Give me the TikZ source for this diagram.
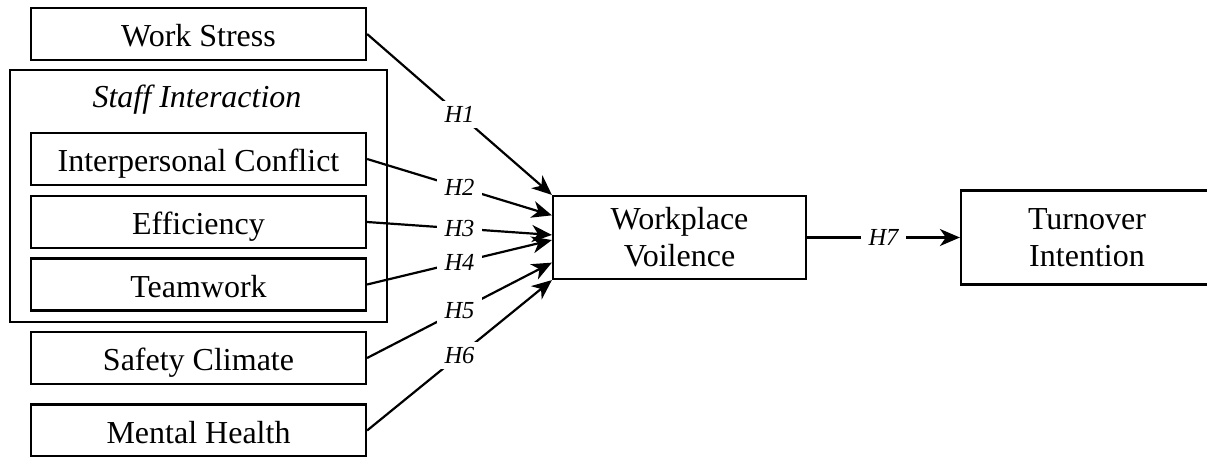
\documentclass[tikz,border=0pt]{standalone}
\usepackage{fontspec}
\setmainfont{Liberation Serif}
\usetikzlibrary{arrows.meta,calc}
\begin{document}
\begin{tikzpicture}[x=1pt,y=-1pt,
  box/.style={draw, line width=2.2pt, minimum width=335pt, minimum height=52pt, inner sep=0pt, font=\fontsize{32}{37}\selectfont, text height=25pt, text depth=0pt},
  bigbox/.style={draw, line width=2.2pt, inner sep=0pt, align=center, font=\fontsize{32}{37}\selectfont},
  groupbox/.style={draw, line width=2.2pt, inner sep=0pt},
  hyp/.style={fill=white, inner xsep=8pt, inner ysep=5pt, font=\fontsize{24.5}{28}\selectfont\itshape, pos=0.5},
  link/.style={line width=2.2pt, -{Stealth[length=20pt,width=17pt,inset=6pt]}}
]
\useasboundingbox (0,0) rectangle (1207,457);

\node[groupbox, minimum width=377pt, minimum height=252pt] (si) at (198.5,196) {};
\node[anchor=base, font=\fontsize{32}{37}\selectfont\itshape] (sit) at (197,108) {Staff Interaction};

\node[box] (ws) at (198.5,34) {Work Stress};
\node[box] (ic) at (198.5,159) {Interpersonal Conflict};
\node[box] (ef) at (198.5,222) {Efficiency};
\node[box] (tw) at (198.5,284.5) {Teamwork};
\node[box] (sc) at (198.5,358) {Safety Climate};
\node[box] (mh) at (198.5,430.5) {Mental Health};

\node[bigbox, minimum width=253pt, minimum height=83pt] (wv) at (679.5,237.5) {Workplace\\Voilence};
\node[bigbox, minimum width=252pt, minimum height=94pt] (ti) at (1087,237.5) {Turnover\\Intention};

\coordinate (p2) at ($(wv.north west)!0.24!(wv.south west)$);
\coordinate (p3) at ($(wv.north west)!0.47!(wv.south west)$);
\coordinate (p4) at ($(wv.north west)!0.53!(wv.south west)$);
\coordinate (p5) at ($(wv.north west)!0.795!(wv.south west)$);

\draw[link] (ws.east) -- node[hyp]{H1} (wv.north west);
\draw[link] (ic.east) -- node[hyp]{H2} (p2);
\draw[link] (ef.east) -- node[hyp]{H3} (p3);
\draw[link] (tw.east) -- node[hyp]{H4} (p4);
\draw[link] (sc.east) -- node[hyp]{H5} (p5);
\draw[link] (mh.east) -- node[hyp]{H6} (wv.south west);
\draw[link] (wv.east) -- node[hyp]{H7} (ti.west);
\end{tikzpicture}
\end{document}
